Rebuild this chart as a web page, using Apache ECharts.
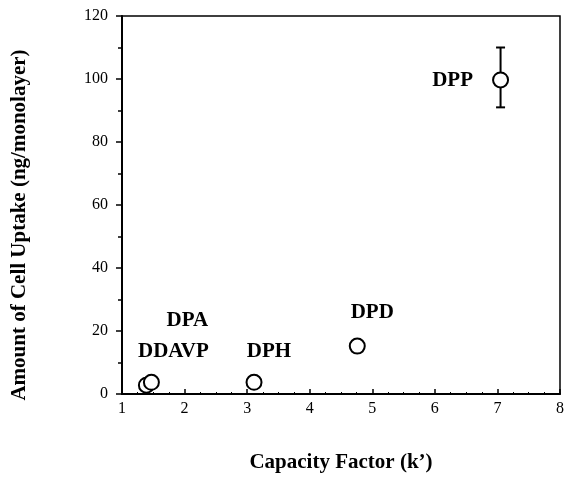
<!DOCTYPE html>
<html>
<head>
<meta charset="utf-8">
<script src="https://cdn.jsdelivr.net/npm/echarts@6/dist/echarts.min.js"></script>
<style>
  html, body { margin: 0; padding: 0; background: #fff; }
  #chart { width: 567px; height: 478px; }
</style>
</head>
<body>
<div id="chart"></div>
<script>
// compounds: [name, capacity factor k', uptake]
var names = ['DDAVP', 'DPA', 'DPH', 'DPD', 'DPP'];
var kValues = [1.39, 1.47, 3.11, 4.76, 7.05];
var uptake = [2.8, 3.7, 3.7, 15.2, 99.7];
var errLow = [null, null, null, null, 91];
var errHigh = [null, null, null, null, 110];
var xTicks = [1, 2, 3, 4, 5, 6, 7, 8];
var yTicks = [0, 20, 40, 60, 80, 100, 120];

// label offsets from each point (px)
var labelOffsets = [[27, -34], [36, -62], [15, -31], [15, -34], [-48, 1]];

var font = '"Liberation Serif", "DejaVu Serif", serif';
var chart = echarts.init(document.getElementById('chart'), null, { renderer: 'canvas' });

var points = names.map(function(n, i) {
  return {
    name: n,
    value: [kValues[i], uptake[i]],
    label: {
      show: true,
      formatter: n,
      position: 'inside',
      offset: labelOffsets[i],
      color: '#000',
      fontFamily: font,
      fontWeight: 'bold',
      fontSize: 21
    }
  };
});

var errData = [];
for (var i = 0; i < names.length; i++) {
  if (errLow[i] != null) errData.push([kValues[i], errLow[i], errHigh[i]]);
}

chart.setOption({
  animation: false,
  grid: {
    left: 122, right: 4, top: 16, bottom: 79,
    show: true, borderColor: '#000', borderWidth: 1.5, backgroundColor: 'transparent'
  },
  xAxis: {
    type: 'value',
    min: xTicks[0], max: xTicks[xTicks.length - 1], interval: 1,
    name: 'Capacity Factor (k\u2019)',
    nameLocation: 'middle',
    nameGap: 58,
    nameTextStyle: { color: '#000', fontFamily: font, fontWeight: 'bold', fontSize: 21 },
    axisLine: { lineStyle: { color: '#000', width: 2 } },
    axisTick: { inside: true, length: 5, lineStyle: { color: '#000', width: 1.5 } },
    minorTick: { show: true, splitNumber: 4, length: 2, lineStyle: { color: '#000' } },
    axisLabel: { color: '#000', fontFamily: font, fontSize: 16, margin: 7 },
    splitLine: { show: false }
  },
  yAxis: {
    type: 'value',
    min: yTicks[0], max: yTicks[yTicks.length - 1], interval: 20,
    name: 'Amount of Cell Uptake (ng/monolayer)',
    nameLocation: 'middle',
    nameGap: 92,
    nameTextStyle: {
      color: '#000', fontFamily: font, fontWeight: 'bold', fontSize: 21,
      padding: [0, 40, 0, 0]
    },
    axisLine: { lineStyle: { color: '#000', width: 2 } },
    axisTick: { inside: false, length: 6, lineStyle: { color: '#000', width: 1.5 } },
    minorTick: { show: true, splitNumber: 2, length: 4, lineStyle: { color: '#000', width: 1.5 } },
    axisLabel: { color: '#000', fontFamily: font, fontSize: 16, margin: 14 },
    splitLine: { show: false }
  },
  series: [
    {
      type: 'custom',
      z: 1,
      data: errData,
      renderItem: function(params, api) {
        var top = api.coord([api.value(0), api.value(2)]);
        var bot = api.coord([api.value(0), api.value(1)]);
        var cap = 4.5;
        var st = { stroke: '#000', lineWidth: 2 };
        return {
          type: 'group',
          children: [
            { type: 'line', shape: { x1: top[0], y1: top[1], x2: bot[0], y2: bot[1] }, style: st },
            { type: 'line', shape: { x1: top[0] - cap, y1: top[1], x2: top[0] + cap, y2: top[1] }, style: st },
            { type: 'line', shape: { x1: bot[0] - cap, y1: bot[1], x2: bot[0] + cap, y2: bot[1] }, style: st }
          ]
        };
      }
    },
    {
      type: 'scatter',
      z: 2,
      symbol: 'circle',
      symbolSize: 15,
      itemStyle: { color: '#fff', borderColor: '#000', borderWidth: 2, opacity: 1 },
      data: points
    }
  ]
});
</script>
</body>
</html>
